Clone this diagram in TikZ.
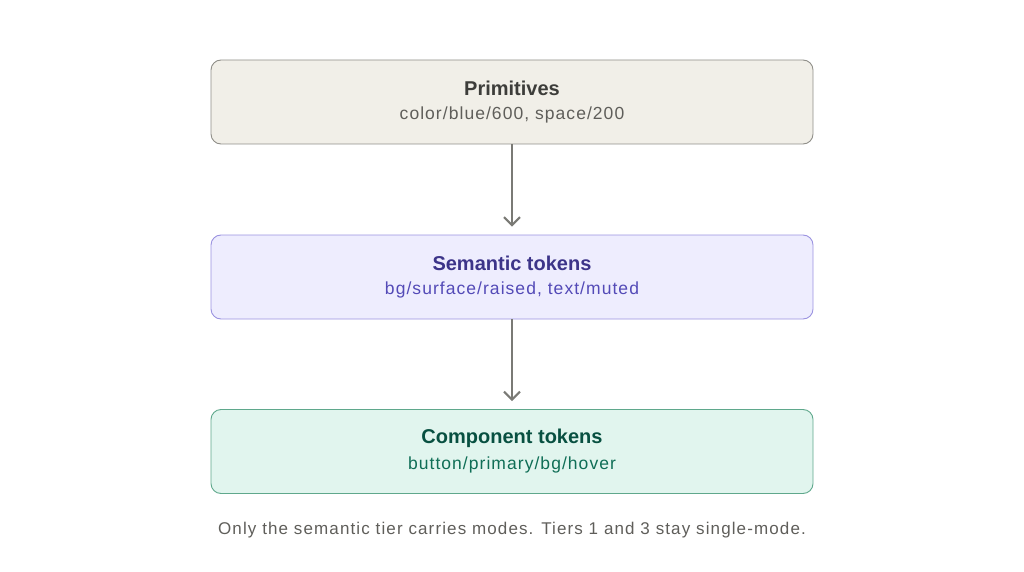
\documentclass[tikz,border=0pt]{standalone}
\usepackage{fontspec}
\setmainfont{Liberation Sans}
\newfontfamily\subfont[LetterSpace=6]{Liberation Sans}
\newfontfamily\capfont[LetterSpace=6.6]{Liberation Sans}
\usetikzlibrary{arrows.meta}
\definecolor{pfill}{HTML}{F1EFE8}
\definecolor{pdraw}{HTML}{8F8E88}
\definecolor{ptitle}{HTML}{3D3D3A}
\definecolor{psub}{HTML}{5F5E5A}
\definecolor{sfill}{HTML}{EEEDFE}
\definecolor{sdraw}{HTML}{9A92E0}
\definecolor{stitle}{HTML}{3C3489}
\definecolor{ssub}{HTML}{534AB7}
\definecolor{cfill}{HTML}{E1F5EE}
\definecolor{cdraw}{HTML}{5FA88C}
\definecolor{ctitle}{HTML}{085041}
\definecolor{csub}{HTML}{0F6E56}
\definecolor{arrowc}{HTML}{7A7A75}
\definecolor{capc}{HTML}{5F5E5A}
\tikzset{
  tier/.style={rounded corners=10pt, line width=0.9pt, minimum width=602pt, minimum height=84pt, inner sep=0pt},
  ttl/.style={font=\fontsize{20}{24}\selectfont\bfseries},
  sub/.style={font=\subfont\fontsize{17.5}{20}\selectfont},
  captxt/.style={font=\capfont\fontsize{17}{20}\selectfont},
  conn/.style={draw=arrowc, line width=2pt, -{Straight Barb[length=8pt,width=16pt,line width=2pt]}},
}
\begin{document}
\begin{tikzpicture}[x=1pt,y=-1pt]
\useasboundingbox (0,0) rectangle (1024,572);
\node[tier, fill=pfill, draw=pdraw] (prim) at (512,102) {};
\node[ttl, text=ptitle] (primt) at (512,88) {Primitives};
\node[sub, text=psub] (prims) at (512,115) {color/blue/600, space/200};
\node[tier, fill=sfill, draw=sdraw] (sem) at (512,277) {};
\node[ttl, text=stitle] (semt) at (512,263) {Semantic tokens};
\node[sub, text=ssub] (sems) at (512,290) {bg/surface/raised, text/muted};
\node[tier, fill=cfill, draw=cdraw] (comp) at (512,451.5) {};
\node[ttl, text=ctitle] (compt) at (512,438) {Component tokens};
\node[sub, text=csub] (comps) at (512,465) {button/primary/bg/hover};
\draw[conn] (prim.south) -- ([yshift=8pt]sem.north);
\draw[conn] (sem.south) -- ([yshift=8pt]comp.north);
\node[captxt, text=capc] (cap) at (512,530.5) {Only the semantic tier carries modes. Tiers 1 and 3 stay single-mode.};
\end{tikzpicture}
\end{document}
